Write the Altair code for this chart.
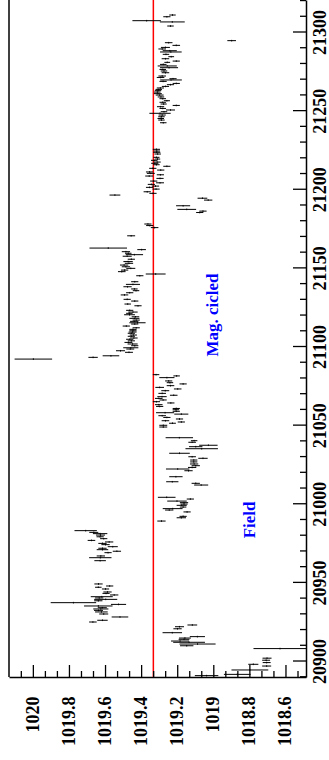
import altair as alt
import pandas as pd

# ---- data ----
runs = [20890.7, 20891.5, 20894.3, 20896.8, 20897.9, 20899.0, 20900.5, 20901.8, 20907.9, 20909.7,
        20910.8, 20911.9, 20912.7, 20913.8, 20914.6, 20915.5, 20918.0, 20920.5, 20921.8, 20922.9,
        20924.8, 20925.9, 20928.0, 20929.9, 20931.2, 20932.2, 20933.1, 20933.9, 20935.0, 20936.0,
        20937.1, 20938.3, 20939.2, 20940.1, 20940.9, 20942.0, 20943.0, 20943.9, 20945.8, 20946.9,
        20947.7, 20949.0, 20963.8, 20965.7, 20966.8, 20968.9, 20969.8, 20970.8, 20971.7, 20972.7,
        20974.0, 20974.8, 20975.7, 20976.7, 20977.8, 20979.0, 20980.1, 20981.0, 20981.8, 20982.9,
        20989.0, 20991.1, 20992.0, 20994.8, 20996.0, 20996.9, 20997.9, 20999.0, 20999.8, 21000.7,
        21001.7, 21003.0, 21004.1, 21011.9, 21013.0, 21014.0, 21017.2, 21021.0, 21022.1, 21023.1,
        21024.2, 21025.3, 21026.6, 21027.8, 21028.9, 21029.9, 21032.1, 21035.0, 21036.3, 21037.2,
        21039.1, 21040.1, 21042.0, 21048.8, 21049.9, 21051.2, 21052.0, 21052.8, 21053.9, 21054.9,
        21056.0, 21057.0, 21057.9, 21058.8, 21059.8, 21060.6, 21061.9, 21063.0, 21064.1, 21064.9,
        21066.0, 21067.0, 21068.1, 21069.0, 21070.2, 21071.9, 21073.0, 21074.0, 21075.1, 21076.2,
        21077.0, 21078.1, 21080.2, 21081.3, 21082.1, 21092.0, 21093.1, 21094.1, 21096.3, 21097.3,
        21098.4, 21099.2, 21100.5, 21101.6, 21102.6, 21103.6, 21104.6, 21105.4, 21106.5, 21107.3,
        21108.4, 21109.2, 21110.0, 21110.9, 21111.9, 21113.0, 21114.3, 21115.1, 21116.0, 21116.8,
        21117.9, 21118.9, 21120.2, 21121.1, 21121.9, 21123.0, 21125.9, 21127.0, 21128.9, 21130.0,
        21132.8, 21134.2, 21135.5, 21136.6, 21138.0, 21139.5, 21141.2, 21145.0, 21146.1, 21147.6,
        21148.6, 21149.7, 21150.7, 21151.8, 21152.9, 21154.0, 21155.5, 21157.4, 21158.4, 21159.3,
        21160.3, 21161.6, 21162.6, 21170.4, 21175.6, 21176.9, 21177.9, 21185.2, 21186.1, 21187.2,
        21189.5, 21193.1, 21194.3, 21196.3, 21197.4, 21198.4, 21200.1, 21201.2, 21202.0, 21203.1,
        21204.1, 21205.2, 21206.9, 21208.4, 21209.2, 21210.1, 21211.0, 21212.2, 21213.3, 21214.6,
        21215.6, 21216.5, 21217.3, 21218.4, 21219.2, 21220.3, 21222.4, 21223.5, 21224.3, 21225.4,
        21242.3, 21244.0, 21245.0, 21246.1, 21247.2, 21248.3, 21249.3, 21250.4, 21251.4, 21252.5,
        21253.3, 21254.2, 21255.3, 21256.3, 21257.6, 21258.7, 21259.9, 21260.8, 21261.8, 21262.7,
        21263.5, 21264.4, 21265.4, 21266.5, 21267.3, 21268.6, 21269.5, 21270.3, 21271.1, 21272.0,
        21274.1, 21275.2, 21276.2, 21277.3, 21278.4, 21279.4, 21280.7, 21281.5, 21283.0, 21284.3,
        21285.8, 21287.3, 21288.1, 21289.2, 21290.2, 21291.5, 21293.2, 21294.5, 21303.8, 21306.4,
        21307.2, 21309.7, 21310.8]

pressure = [1019.04, 1018.87, 1018.80, 1018.707, 1018.781, 1018.707, 1018.71, 1018.705, 1018.633, 1019.15,
            1019.09, 1019.137, 1019.187, 1019.165, 1019.16, 1019.091, 1019.23, 1019.201, 1019.19, 1019.119,
            1019.67, 1019.617, 1019.52, 1019.61, 1019.623, 1019.639, 1019.626, 1019.618, 1019.64, 1019.528,
            1019.778, 1019.64, 1019.599, 1019.635, 1019.621, 1019.552, 1019.597, 1019.589, 1019.60, 1019.64,
            1019.577, 1019.639, 1019.63, 1019.629, 1019.626, 1019.586, 1019.537, 1019.617, 1019.617, 1019.56,
            1019.60, 1019.617, 1019.58, 1019.678, 1019.61, 1019.63, 1019.628, 1019.63, 1019.665, 1019.71,
            1019.29, 1019.18, 1019.17, 1019.148, 1019.247, 1019.228, 1019.17, 1019.178, 1019.165, 1019.165,
            1019.204, 1019.13, 1019.261, 1019.07, 1019.10, 1019.23, 1019.21, 1019.14, 1019.20, 1019.12,
            1019.10, 1019.109, 1019.111, 1019.111, 1019.06, 1019.12, 1019.19, 1019.067, 1019.10, 1019.03,
            1019.12, 1019.109, 1019.191, 1019.28, 1019.28, 1019.229, 1019.18, 1019.268, 1019.19, 1019.26,
            1019.286, 1019.18, 1019.27, 1019.208, 1019.21, 1019.208, 1019.30, 1019.305, 1019.238, 1019.318,
            1019.281, 1019.305, 1019.287, 1019.222, 1019.286, 1019.269, 1019.20, 1019.30, 1019.24, 1019.17,
            1019.243, 1019.25, 1019.26, 1019.206, 1019.32, 1020.0, 1019.669, 1019.57, 1019.47, 1019.517,
            1019.463, 1019.46, 1019.438, 1019.45, 1019.473, 1019.457, 1019.466, 1019.443, 1019.457, 1019.446,
            1019.457, 1019.45, 1019.448, 1019.448, 1019.43, 1019.485, 1019.438, 1019.423, 1019.441, 1019.43,
            1019.44, 1019.434, 1019.467, 1019.468, 1019.448, 1019.466, 1019.42, 1019.477, 1019.438, 1019.48,
            1019.495, 1019.466, 1019.431, 1019.44, 1019.478, 1019.448, 1019.438, 1019.41, 1019.322, 1019.51,
            1019.494, 1019.46, 1019.487, 1019.497, 1019.47, 1019.475, 1019.457, 1019.48, 1019.44, 1019.474,
            1019.487, 1019.40, 1019.585, 1019.458, 1019.328, 1019.355, 1019.365, 1019.078, 1019.06, 1019.15,
            1019.17, 1019.031, 1019.063, 1019.548, 1019.337, 1019.369, 1019.32, 1019.356, 1019.323, 1019.346,
            1019.298, 1019.333, 1019.298, 1019.358, 1019.296, 1019.349, 1019.356, 1019.294, 1019.338, 1019.26,
            1019.318, 1019.327, 1019.314, 1019.33, 1019.312, 1019.318, 1019.311, 1019.316, 1019.316, 1019.318,
            1019.28, 1019.29, 1019.294, 1019.29, 1019.286, 1019.298, 1019.276, 1019.24, 1019.283, 1019.295,
            1019.208, 1019.278, 1019.283, 1019.26, 1019.283, 1019.293, 1019.30, 1019.31, 1019.313, 1019.309,
            1019.305, 1019.296, 1019.268, 1019.24, 1019.208, 1019.281, 1019.237, 1019.226, 1019.295, 1019.286,
            1019.268, 1019.276, 1019.283, 1019.248, 1019.258, 1019.28, 1019.258, 1019.208, 1019.268, 1019.236,
            1019.265, 1019.238, 1019.244, 1019.286, 1019.268, 1019.208, 1019.25, 1018.901, 1019.24, 1019.23,
            1019.372, 1019.26, 1019.229]

errors = [0.065, 0.074, 0.102, 0.025, 0.028, 0.022, 0.022, 0.025, 0.147, 0.037,
          0.10, 0.088, 0.05, 0.03, 0.033, 0.042, 0.054, 0.023, 0.025, 0.027,
          0.021, 0.029, 0.046, 0.025, 0.035, 0.025, 0.042, 0.025, 0.079, 0.042,
          0.126, 0.023, 0.064, 0.023, 0.061, 0.023, 0.02, 0.023, 0.02, 0.018,
          0.02, 0.023, 0.032, 0.062, 0.023, 0.02, 0.023, 0.032, 0.023, 0.028,
          0.023, 0.023, 0.023, 0.021, 0.02, 0.02, 0.025, 0.04, 0.025, 0.062,
          0.023, 0.026, 0.02, 0.02, 0.023, 0.055, 0.018, 0.028, 0.02, 0.023,
          0.054, 0.02, 0.049, 0.039, 0.023, 0.034, 0.037, 0.023, 0.065, 0.023,
          0.023, 0.023, 0.02, 0.02, 0.026, 0.021, 0.057, 0.09, 0.037, 0.051,
          0.021, 0.018, 0.076, 0.022, 0.022, 0.019, 0.02, 0.021, 0.02, 0.02,
          0.021, 0.039, 0.05, 0.02, 0.018, 0.02, 0.02, 0.021, 0.02, 0.02,
          0.02, 0.021, 0.026, 0.021, 0.021, 0.022, 0.021, 0.024, 0.021, 0.02,
          0.018, 0.02, 0.042, 0.018, 0.018, 0.104, 0.026, 0.046, 0.022, 0.025,
          0.022, 0.042, 0.02, 0.028, 0.022, 0.02, 0.02, 0.021, 0.02, 0.02,
          0.02, 0.022, 0.02, 0.02, 0.02, 0.02, 0.02, 0.045, 0.023, 0.02,
          0.028, 0.021, 0.03, 0.018, 0.026, 0.02, 0.02, 0.018, 0.02, 0.02,
          0.021, 0.02, 0.018, 0.018, 0.023, 0.039, 0.02, 0.02, 0.055, 0.021,
          0.02, 0.025, 0.023, 0.023, 0.023, 0.026, 0.02, 0.025, 0.048, 0.018,
          0.023, 0.024, 0.104, 0.022, 0.021, 0.02, 0.02, 0.02, 0.02, 0.052,
          0.039, 0.023, 0.027, 0.03, 0.02, 0.02, 0.02, 0.02, 0.02, 0.02,
          0.022, 0.02, 0.02, 0.022, 0.02, 0.022, 0.02, 0.02, 0.02, 0.02,
          0.018, 0.02, 0.02, 0.018, 0.015, 0.017, 0.018, 0.02, 0.018, 0.02,
          0.018, 0.018, 0.018, 0.018, 0.02, 0.059, 0.018, 0.025, 0.018, 0.02,
          0.02, 0.017, 0.018, 0.017, 0.018, 0.018, 0.022, 0.022, 0.018, 0.018,
          0.018, 0.02, 0.02, 0.02, 0.02, 0.02, 0.06, 0.02, 0.021, 0.021,
          0.021, 0.018, 0.018, 0.05, 0.053, 0.018, 0.016, 0.02, 0.021, 0.016,
          0.018, 0.06, 0.039, 0.021, 0.025, 0.021, 0.021, 0.024, 0.018, 0.069,
          0.079, 0.02, 0.018]

reference_pressure = [1019.335]

label_text = ["Mag. cicled", "Field"]
label_pressure = [1019.003, 1018.80]
label_run = [21120.0, 20989.7]

# axis tick values
major_runs = [20900, 20950, 21000, 21050, 21100, 21150, 21200, 21250, 21300]
minor_runs = [r for r in range(20890, 21330, 10) if r % 50 != 0]
major_p = [1020.0, 1019.8, 1019.6, 1019.4, 1019.2, 1019.0, 1018.8, 1018.6]
minor_p = [round(1020.0 - k * 0.2 / 3, 4) for k in range(-1, 23) if k % 3 != 0]

# ---- layout ----
W, H = 297, 677
P_DOMAIN = [1018.489, 1020.135]
R_DOMAIN = [20889.83, 21320.35]
FONT = "Liberation Serif"

xs = alt.Scale(domain=P_DOMAIN, reverse=True, nice=False, zero=False)
ys = alt.Scale(domain=R_DOMAIN, nice=False, zero=False)

x_axis = alt.Axis(title=None, orient="bottom", values=major_p, format=".6~g",
                  labelAngle=270, labelAlign="right", labelBaseline="middle",
                  labelPadding=19, labelFont=FONT, labelFontWeight="bold",
                  labelFontSize=18, labelColor="black", ticks=False, grid=False,
                  domainColor="black", domainWidth=1.5, labelOverlap=False)
y_axis = alt.Axis(title=None, orient="right", values=major_runs, format="d",
                  labelAngle=270, labelAlign="center", labelBaseline="top",
                  labelPadding=5, labelFont=FONT, labelFontWeight="bold",
                  labelFontSize=18, labelColor="black", ticks=False, grid=False,
                  domainColor="black", domainWidth=1.5, labelOverlap=False)

df = pd.DataFrame({"run": runs, "p": pressure, "err": errors})

bars = alt.Chart(df).transform_calculate(
    lo="datum.p - datum.err", hi="datum.p + datum.err"
).mark_rule(color="black", strokeWidth=1).encode(
    x=alt.X("lo:Q", scale=xs, axis=x_axis),
    x2="hi:Q",
    y=alt.Y("run:Q", scale=ys, axis=y_axis),
)

centers = alt.Chart(df).transform_calculate(
    r0="datum.run - 0.5", r1="datum.run + 0.5"
).mark_rule(color="black", strokeWidth=1).encode(
    x=alt.X("p:Q", scale=xs, axis=x_axis),
    y=alt.Y("r0:Q", scale=ys, axis=y_axis),
    y2="r1:Q",
)

red = alt.Chart(pd.DataFrame({"p": reference_pressure})).mark_rule(
    color="#ff0000", strokeWidth=1.5
).encode(x=alt.X("p:Q", scale=xs, axis=x_axis))

texts = alt.Chart(pd.DataFrame({"t": label_text, "p": label_pressure, "run": label_run})).mark_text(
    angle=270, align="center", baseline="middle", font=FONT, fontWeight="bold",
    fontSize=17, color="#0000ff"
).encode(
    x=alt.X("p:Q", scale=xs, axis=x_axis),
    y=alt.Y("run:Q", scale=ys, axis=y_axis),
    text="t:N",
)

# inward ticks
bt_major = alt.Chart(pd.DataFrame({"p": major_p})).mark_rule(color="black", strokeWidth=1.3).encode(
    x=alt.X("p:Q", scale=xs, axis=x_axis), y=alt.value(H - 12), y2=alt.value(H))
bt_minor = alt.Chart(pd.DataFrame({"p": minor_p})).mark_rule(color="black", strokeWidth=1.3).encode(
    x=alt.X("p:Q", scale=xs, axis=x_axis), y=alt.value(H - 6), y2=alt.value(H))
rt_major = alt.Chart(pd.DataFrame({"run": major_runs})).mark_rule(color="black", strokeWidth=1.3).encode(
    y=alt.Y("run:Q", scale=ys, axis=y_axis), x=alt.value(W - 13), x2=alt.value(W))
rt_minor = alt.Chart(pd.DataFrame({"run": minor_runs})).mark_rule(color="black", strokeWidth=1.3).encode(
    y=alt.Y("run:Q", scale=ys, axis=y_axis), x=alt.value(W - 6), x2=alt.value(W))

left_frame = alt.Chart(pd.DataFrame({"a": [0]})).mark_rule(color="black", strokeWidth=1.5).encode(
    x=alt.value(0), y=alt.value(0), y2=alt.value(H))

chart = alt.layer(
    red, bars, centers, texts, bt_major, bt_minor, rt_major, rt_minor, left_frame
).properties(
    width=W, height=H,
    autosize=alt.AutoSizeParams(type="none"),
    padding={"left": 9, "top": 0, "right": 23, "bottom": 83},
    background="white",
).configure_view(stroke=None)

chart.save("out.html", embed_options={"renderer": "svg", "actions": False})
